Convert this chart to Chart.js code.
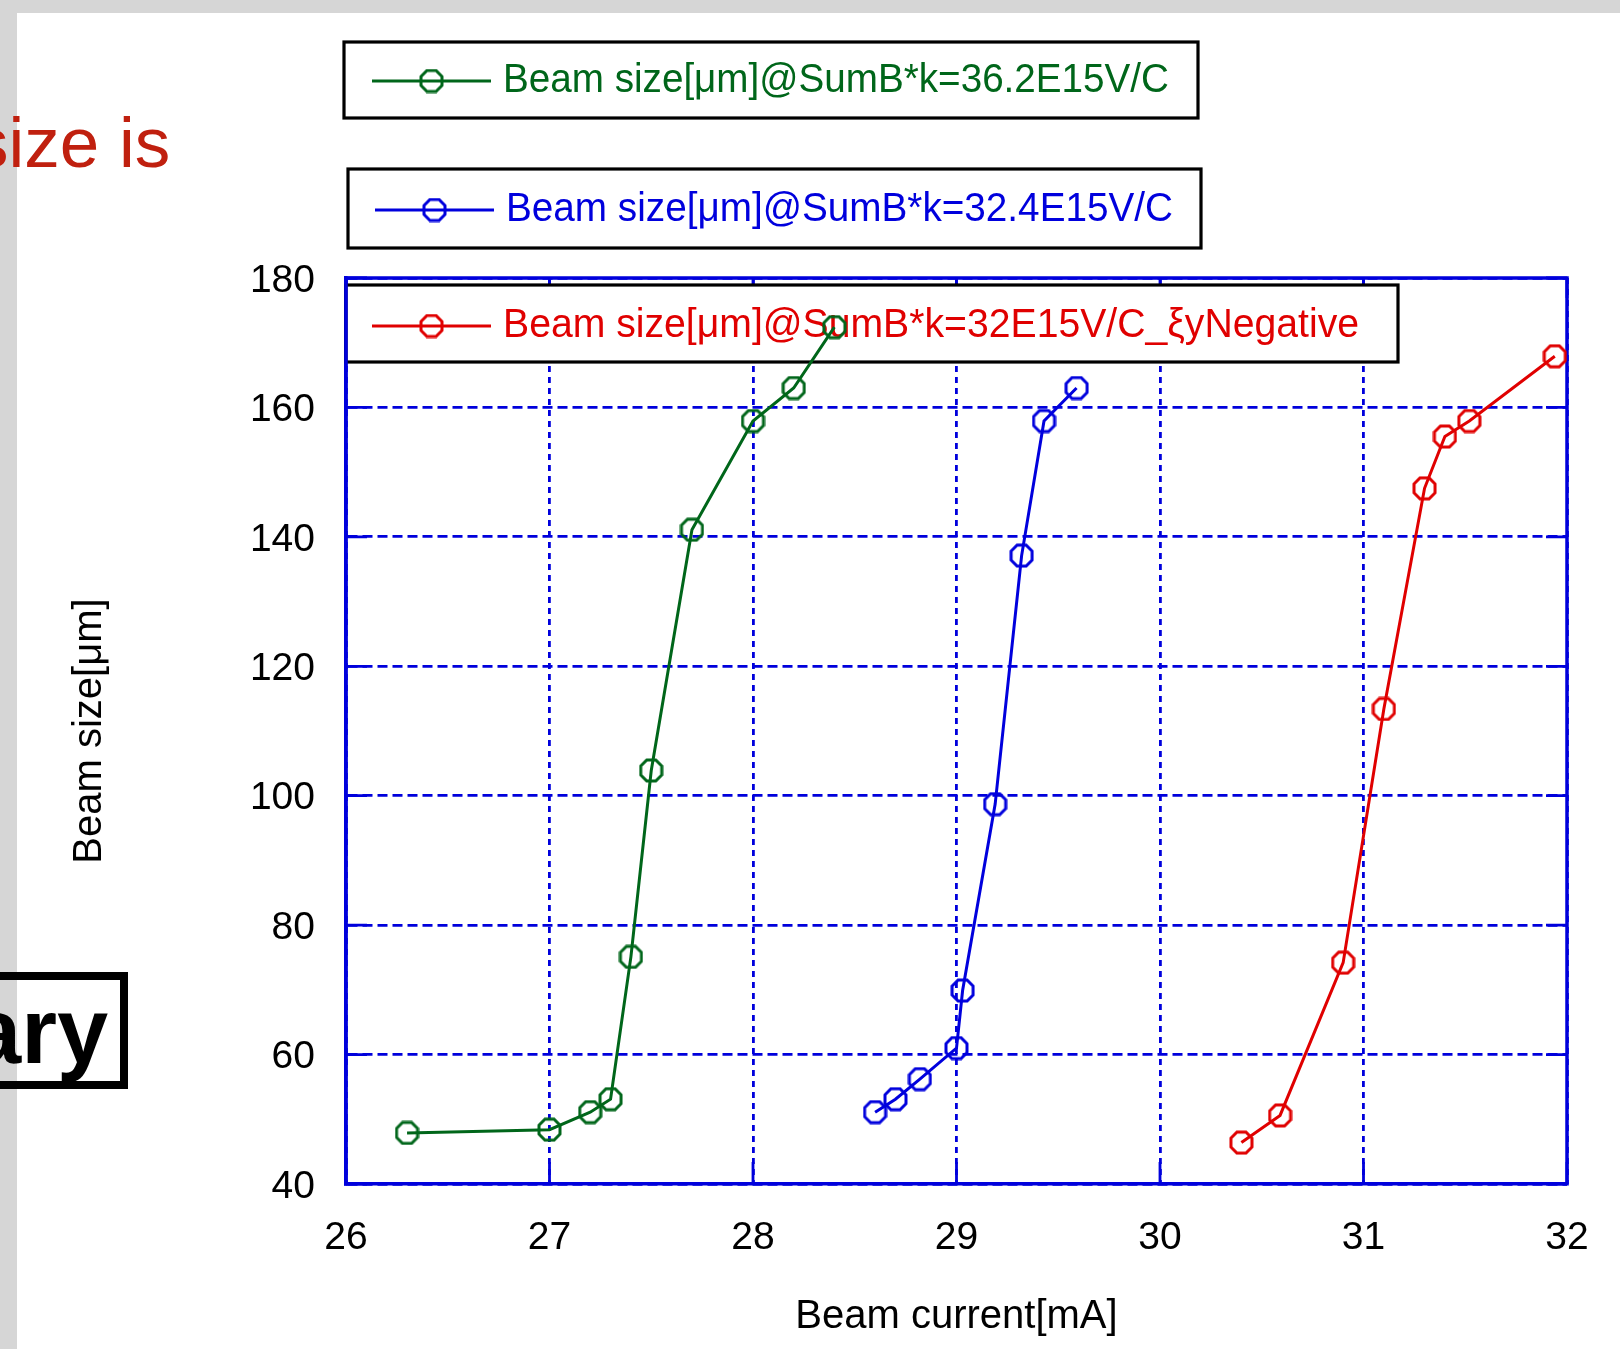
<!DOCTYPE html>
<html>
<head>
<meta charset="utf-8">
<script src="https://cdn.jsdelivr.net/npm/chart.js@4.4.0/dist/chart.umd.min.js"></script>
<style>
  html, body { margin: 0; padding: 0; }
  body { width: 1620px; height: 1349px; background: #d6d6d6; position: relative; overflow: hidden;
         font-family: "Liberation Sans", Arial, sans-serif; }
  #sheet { position: absolute; left: 17px; top: 13px; right: 0; bottom: 0; background: #fff; }
  #cut1 { position: absolute; left: -27px; top: 107px; font-size: 71px; line-height: 71px; color: #c0200f; white-space: nowrap; z-index: 2; }
  #cutbox { position: absolute; left: -20px; top: 972px; width: 132px; height: 101px; border: 8px solid #000; z-index: 2; }
  #cut2 { position: absolute; left: -30px; top: 985px; font-size: 92px; line-height: 92px; font-weight: bold; color: #000; white-space: nowrap; z-index: 2; }
  #chart { position: absolute; left: 0; top: 0; z-index: 1; }
</style>
</head>
<body>
<div id="sheet"></div>
<div id="cut1">size is</div>
<div id="cutbox"></div>
<div id="cut2">ary</div>
<canvas id="chart" width="1620" height="1349"></canvas>
<script>
// ---- data ----
const seriesLabels = [
  'Beam size[μm]@SumB*k=36.2E15V/C',
  'Beam size[μm]@SumB*k=32.4E15V/C',
  'Beam size[μm]@SumB*k=32E15V/C_ξyNegative'
];
const xGreen = [26.3, 27.0, 27.2, 27.3, 27.4, 27.5, 27.7, 28.0, 28.2, 28.4];
const yGreen = [47.9, 48.4, 51.1, 53.1, 75.1, 103.9, 141.1, 157.9, 163.0, 172.4];
const xBlue = [28.6, 28.7, 28.82, 29.0, 29.03, 29.19, 29.32, 29.43, 29.59];
const yBlue = [51.1, 53.1, 56.2, 61.0, 69.9, 98.7, 137.1, 157.9, 163.0];
const xRed = [30.4, 30.59, 30.9, 31.1, 31.3, 31.4, 31.52, 31.94];
const yRed = [46.4, 50.6, 74.2, 113.4, 147.5, 155.5, 157.9, 167.9];
const xTitle = 'Beam current[mA]';
const yTitle = 'Beam size[μm]';

const GREEN = '#00661a';
const BLUE_S = '#0000dd';
const RED = '#e00000';
const AXIS = '#0000dc';
const FONT = '"Liberation Sans", Arial, sans-serif';

function toPoints(xs, ys) {
  return xs.map((v, i) => ({x: v, y: ys[i]}));
}

// octagon marker like the original plot symbol
function octagon(color) {
  const c = document.createElement('canvas');
  c.width = 25; c.height = 25;
  const g = c.getContext('2d');
  g.strokeStyle = color;
  g.lineWidth = 3;
  g.beginPath();
  g.moveTo(8, 2); g.lineTo(17, 2); g.lineTo(23, 8); g.lineTo(23, 17);
  g.lineTo(17, 23); g.lineTo(8, 23); g.lineTo(2, 17); g.lineTo(2, 8);
  g.closePath();
  g.stroke();
  return c;
}

const colors = [GREEN, BLUE_S, RED];
const markers = colors.map(octagon);

// the three framed legend boxes
const legendBoxes = [
  {left: 344, top: 42, right: 1198, bottom: 118, lineY: 81, lineX0: 372, lineX1: 491, textX: 503, textW: 666},
  {left: 348, top: 169, right: 1201, bottom: 248, lineY: 210, lineX0: 375, lineX1: 494, textX: 506, textW: 667},
  {left: 346, top: 285, right: 1398, bottom: 362, lineY: 326, lineX0: 372, lineX1: 491, textX: 503, textW: 856}
];

const framePlugin = {
  id: 'frame',
  beforeDatasetsDraw(chart) {
    const {ctx, chartArea: a, scales: {x, y}} = chart;
    ctx.save();
    ctx.setLineDash([]);
    ctx.strokeStyle = AXIS;
    // inward ticks
    ctx.lineWidth = 2.8;
    ctx.beginPath();
    y.ticks.forEach(t => {
      const p = y.getPixelForValue(t.value);
      ctx.moveTo(a.left, p); ctx.lineTo(a.left + 21, p);
      ctx.moveTo(a.right, p); ctx.lineTo(a.right - 21, p);
    });
    x.ticks.forEach(t => {
      const p = x.getPixelForValue(t.value);
      ctx.moveTo(p, a.bottom); ctx.lineTo(p, a.bottom - 22);
      ctx.moveTo(p, a.top); ctx.lineTo(p, a.top + 20);
    });
    ctx.stroke();
    // top and right frame
    ctx.lineWidth = 3.5;
    ctx.beginPath();
    ctx.moveTo(a.left, a.top); ctx.lineTo(a.right, a.top); ctx.lineTo(a.right, a.bottom);
    ctx.stroke();

    // legend boxes
    legendBoxes.forEach((b, i) => {
      ctx.fillStyle = '#fff';
      ctx.fillRect(b.left, b.top, b.right - b.left, b.bottom - b.top);
      ctx.strokeStyle = '#000';
      ctx.lineWidth = 3.2;
      ctx.strokeRect(b.left, b.top, b.right - b.left, b.bottom - b.top);
      ctx.strokeStyle = colors[i];
      ctx.lineWidth = 3;
      ctx.beginPath();
      ctx.moveTo(b.lineX0, b.lineY); ctx.lineTo(b.lineX1, b.lineY);
      ctx.stroke();
      const m = markers[i];
      ctx.drawImage(m, (b.lineX0 + b.lineX1) / 2 - m.width / 2, b.lineY - m.height / 2);
      ctx.fillStyle = colors[i];
      ctx.font = '40px ' + FONT;
      ctx.textBaseline = 'middle';
      ctx.textAlign = 'left';
      ctx.fillText(seriesLabels[i], b.textX, b.lineY, b.textW);
    });

    // left frame on top of the inner legend box
    ctx.strokeStyle = AXIS;
    ctx.lineWidth = 3.5;
    ctx.beginPath();
    ctx.moveTo(a.left, a.top); ctx.lineTo(a.left, a.bottom);
    ctx.stroke();
    ctx.restore();
  }
};

const datasets = [[xGreen, yGreen], [xBlue, yBlue], [xRed, yRed]].map((s, i) => ({
  label: seriesLabels[i],
  data: toPoints(s[0], s[1]),
  borderColor: colors[i],
  backgroundColor: colors[i],
  borderWidth: 3,
  pointStyle: markers[i],
  pointRadius: 12,
  showLine: true,
  fill: false,
  tension: 0,
  clip: false
}));

new Chart(document.getElementById('chart'), {
  type: 'line',
  data: {datasets: datasets},
  options: {
    responsive: false,
    animation: false,
    devicePixelRatio: 1,
    layout: {padding: {top: 278, right: 53, bottom: 0, left: 0}},
    plugins: {legend: {display: false}, tooltip: {enabled: false}},
    scales: {
      x: {
        type: 'linear', min: 26, max: 32,
        ticks: {stepSize: 1, color: '#000', font: {family: FONT, size: 39}, padding: 31},
        grid: {color: AXIS, lineWidth: 2.8, drawTicks: false},
        border: {color: AXIS, width: 3.5, dash: [6, 5]},
        title: {display: true, text: xTitle, color: '#000', font: {family: FONT, size: 40}, padding: {top: 0, bottom: 8}},
        afterFit(s) { s.height = 165; }
      },
      y: {
        type: 'linear', min: 40, max: 180,
        ticks: {stepSize: 20, color: '#000', font: {family: FONT, size: 39}, padding: 31, labelOffset: 3},
        grid: {color: AXIS, lineWidth: 2.8, drawTicks: false},
        border: {color: AXIS, width: 3.5, dash: [10, 5]},
        title: {display: true, text: yTitle, color: '#000', font: {family: FONT, size: 40}, padding: {top: 66, bottom: 0}},
        afterFit(s) { s.width = 346; }
      }
    }
  },
  plugins: [framePlugin]
});
</script>
</body>
</html>
